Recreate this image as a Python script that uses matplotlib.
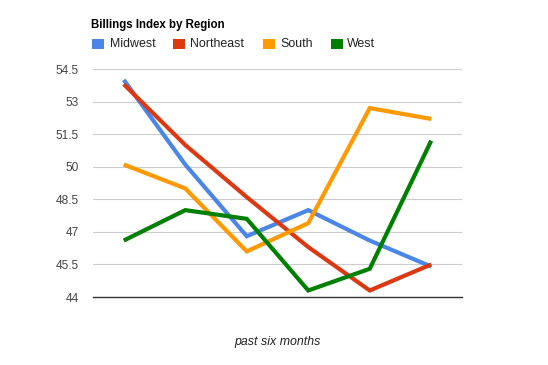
import matplotlib
matplotlib.use("Agg")
import matplotlib.pyplot as plt
from matplotlib.patches import Rectangle

months = [0, 1, 2, 3, 4, 5]
series_names = ["Midwest", "Northeast", "South", "West"]
midwest = [54.0, 50.1, 46.8, 48.0, 46.6, 45.4]
northeast = [53.8, 51.0, 48.6, 46.3, 44.3, 45.5]
south = [50.1, 49.0, 46.1, 47.4, 52.7, 52.2]
west = [46.6, 48.0, 47.6, 44.3, 45.3, 51.2]
y_ticks = [44, 45.5, 47, 48.5, 50, 51.5, 53, 54.5]
y_tick_labels = ["44", "45.5", "47", "48.5", "50", "51.5", "53", "54.5"]
colors = ["#4a86e8", "#dc3912", "#ff9900", "#008000"]

plt.rcParams['font.family'] = ['Liberation Sans', 'DejaVu Sans']

W, H = 548, 365
fig = plt.figure(figsize=(W / 100, H / 100), dpi=100)
ax = fig.add_axes([93 / W, 1 - 297 / H, (462 - 93) / W, (297 - 69) / H])

for vals, c in zip([midwest, northeast, south, west], colors):
    ax.plot(months, vals, color=c, lw=3.0, solid_joinstyle='miter', solid_capstyle='butt', zorder=3)

ax.set_xlim(-0.5, 5.5)
ax.set_ylim(44, 54.5)
ax.set_yticks(y_ticks)
ax.set_yticklabels(y_tick_labels, fontsize=8.6, color="#444444")
ax.set_xticks([])
ax.tick_params(axis='y', length=0, pad=10)
for s in ["top", "right", "left"]:
    ax.spines[s].set_visible(False)
ax.spines["bottom"].set_color("#333333")
ax.spines["bottom"].set_linewidth(1.0)
ax.spines["bottom"].set_zorder(4)
ax.grid(axis='y', color="#cccccc", lw=0.8, zorder=0)
ax.set_axisbelow(True)

fig.text(91 / W, 1 - 25 / H, "Billings Index by Region", fontsize=8.3, fontweight='bold',
         color="#000000", ha='left', va='center')

sq_x = [92, 173, 263, 331]
txt_x = [110, 190, 280, 347]
for name, c, sx, tx in zip(series_names, colors, sq_x, txt_x):
    fig.patches.append(Rectangle((sx / W, 1 - 49 / H), 12 / W, 10 / H,
                                 transform=fig.transFigure, facecolor=c, edgecolor='none'))
    fig.text(tx / W, 1 - 44 / H, name, fontsize=8.9, color="#222222", ha='left', va='center')

fig.text(277 / W, 1 - 342 / H, "past six months", fontsize=8.9, style='italic',
         color="#222222", ha='center', va='center')

fig.savefig("out.png", dpi=100, facecolor="white")
